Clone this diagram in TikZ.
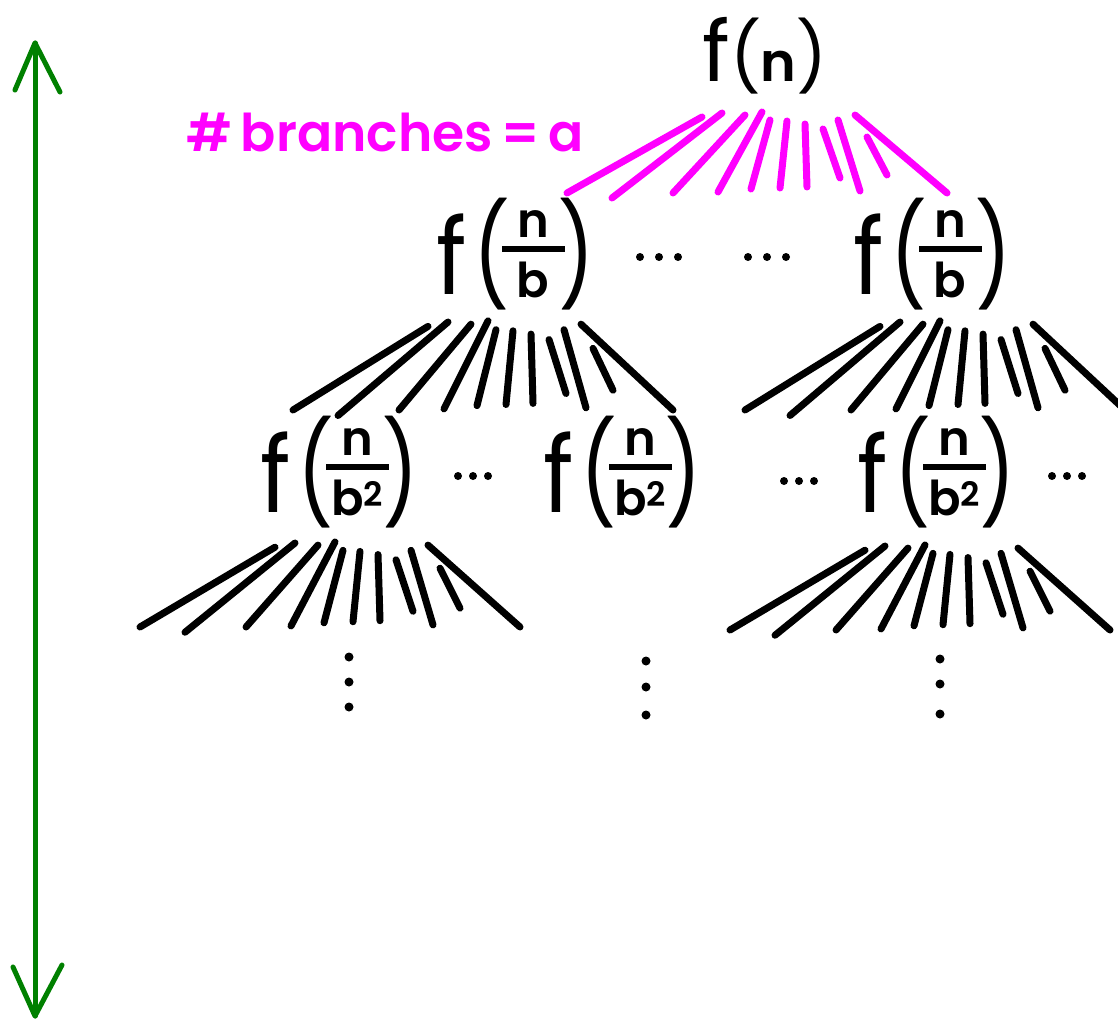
\documentclass[tikz,border=0pt]{standalone}
\usepackage{amsmath}
\usepackage{graphicx}
\usepackage{fontspec}
\setmainfont{Poppins}[BoldFont={Poppins SemiBold}]
\definecolor{mag}{RGB}{255,0,255}
\definecolor{grn}{RGB}{0,128,0}
\newcommand{\fsz}[1]{\fontsize{#1}{#1}\selectfont}
\newcommand{\vc}[1]{\vcenter{\hbox{#1}}}
\newcommand{\ffrac}[1]{$\vc{\scalebox{1.05}[1.2]{\fsz{88}\mdseries f}}\hspace{6pt}%
  \vc{\scalebox{1}[1.25]{\fsz{80}\mdseries (}}\hspace{-8pt}%
  \vc{\fsz{48}\renewcommand\arraystretch{0}\begin{tabular}{@{}c@{}}n\\[8pt]\rule{63pt}{6pt}\\[10pt]#1\end{tabular}}%
  \hspace{-6pt}\vc{\scalebox{1}[1.25]{\fsz{80}\mdseries )}}$}
\tikzset{
  fan/.pic={
    \draw (135,-76) -- (0,0);
    \draw (155,-80) -- (45,5);
    \draw (178,-78) -- (106,0);
    \draw (195,-81) -- (151,-1);
    \draw (203,-73) -- (184,-4);
    \draw (220,-72) -- (213,-5);
    \draw (238,-69) -- (240,-6);
    \draw (256,-64) -- (273,-15);
    \draw (271,-73) -- (293,-2);
    \draw (300,-56) -- (320,-18);
    \draw (288,-78) -- (380,0);
  },
  lbl/.style={inner sep=0pt, font=\fsz{56}\bfseries},
}
\begin{document}
\begin{tikzpicture}[x=1pt,y=-1pt,line cap=round,line join=round]
\useasboundingbox (0,0) rectangle (1118,1022);
\fill[white] (0,0) rectangle (1118,1022);

% green arrow
\coordinate (top) at (35,43);
\coordinate (bot) at (35,1016);
\draw[grn,line width=5] (top) -- (bot);
\draw[grn,line width=5] (15,90) -- (top) -- (60,92);
\draw[grn,line width=5] (13,967) -- (bot) -- (62,965);

% root
\node[lbl,anchor=base] (root) at (765,82) {{\fsz{84}\mdseries f}{\fsz{68}\mdseries (}{\fsz{54}n}{\fsz{68}\mdseries )}};
\node[lbl,text=mag,font=\fsz{52}\bfseries] (br) at (385,132) {\#\,branches\,=\,a};

% magenta fan
\pic[draw=mag,line width=7] at (567,193) {fan};

% level 1
\node[lbl] (l1a) at (516,254) {\ffrac{b}};
\node[lbl] (l1b) at (933,254) {\ffrac{b}};
\foreach \x in {640,659,678,748,767,786} \fill (\x,257) circle (4);

% black fans level 2
\pic[draw=black,line width=7,yscale=1.1] at (293,410) {fan};
\pic[draw=black,line width=7,yscale=1.1] at (745,410) {fan};

% level 2
\node[lbl] (l2a) at (340,472) {\ffrac{b\textsuperscript{2}}};
\node[lbl] (l2b) at (623,472) {\ffrac{b\textsuperscript{2}}};
\node[lbl] (l2c) at (937,472) {\ffrac{b\textsuperscript{2}}};
\foreach \x in {458,473,488} \fill (\x,476) circle (4);
\foreach \x in {784,799,814} \fill (\x,481) circle (4);
\foreach \x in {1052,1067,1082} \fill (\x,476) circle (4);

% black fans level 3
\pic[draw=black,line width=7,yscale=1.05] at (140,627) {fan};
\pic[draw=black,line width=7,yscale=1.05] at (730,630) {fan};

% vertical dots
\foreach \y in {657,682,707} \fill (349,\y) circle (4.5);
\foreach \y in {661,687,715} \fill (646,\y) circle (4.5);
\foreach \y in {659,684,714} \fill (940,\y) circle (4.5);
\end{tikzpicture}
\end{document}
